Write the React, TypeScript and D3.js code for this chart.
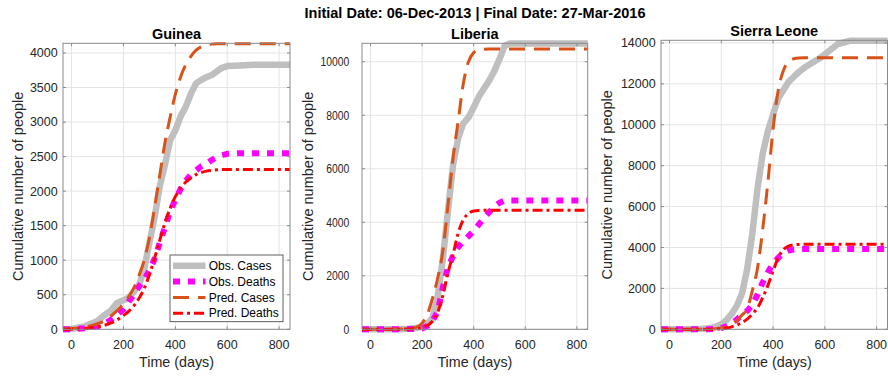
import React from 'react';
import * as d3 from 'd3';

const days = [-33, 0, 50, 100, 125, 150, 175, 200, 220, 240, 260, 280, 300, 320, 340, 360, 380, 400, 420, 440, 460, 480, 500, 520, 540, 560, 580, 600, 650, 700, 750, 800, 842];

const guineaObsCases = [0, 5, 40, 120, 200, 265, 380, 420, 460, 540, 640, 870, 1250, 1620, 2070, 2380, 2740, 2880, 3080, 3220, 3410, 3560, 3610, 3650, 3680, 3735, 3785, 3810, 3820, 3828, 3830, 3830, 3830];
const guineaObsDeaths = [0, 3, 15, 40, 75, 135, 210, 290, 400, 500, 620, 720, 850, 1020, 1250, 1480, 1700, 1880, 2030, 2150, 2240, 2300, 2360, 2400, 2450, 2490, 2520, 2540, 2550, 2550, 2550, 2550, 2550];
const guineaPredCases = [0, 10, 30, 80, 120, 185, 270, 370, 470, 600, 780, 1000, 1320, 1760, 2230, 2700, 3070, 3400, 3650, 3830, 3950, 4040, 4090, 4115, 4128, 4133, 4135, 4135, 4135, 4135, 4135, 4135, 4135];
const guineaPredDeaths = [0, 2, 10, 35, 55, 90, 135, 200, 260, 340, 450, 590, 790, 1030, 1290, 1540, 1750, 1920, 2040, 2130, 2190, 2240, 2270, 2290, 2300, 2308, 2312, 2312, 2312, 2312, 2312, 2312, 2312];

const liberiaObsCases = [0, 0, 2, 5, 10, 20, 50, 90, 200, 420, 1200, 2600, 4400, 6150, 7150, 7700, 7920, 8300, 8700, 9000, 9300, 9650, 10100, 10600, 10680, 10680, 10680, 10680, 10680, 10680, 10680, 10680, 10680];
const liberiaObsDeaths = [0, 0, 0, 2, 4, 8, 15, 30, 120, 320, 650, 1550, 2300, 2750, 3080, 3300, 3480, 3680, 3920, 4150, 4380, 4580, 4730, 4810, 4810, 4810, 4810, 4810, 4810, 4810, 4810, 4810, 4810];
const liberiaPredCases = [0, 0, 2, 8, 15, 30, 65, 230, 550, 1150, 1900, 2900, 4600, 6400, 7800, 9200, 10000, 10340, 10440, 10470, 10478, 10480, 10480, 10480, 10480, 10480, 10480, 10480, 10480, 10480, 10480, 10480, 10480];
const liberiaPredDeaths = [0, 0, 1, 3, 6, 10, 25, 60, 140, 300, 620, 1250, 2100, 2800, 3600, 4100, 4330, 4420, 4445, 4450, 4450, 4450, 4450, 4450, 4450, 4450, 4450, 4450, 4450, 4450, 4450, 4450, 4450];

const sierraObsCases = [0, 0, 5, 15, 25, 50, 100, 250, 450, 750, 1150, 1750, 2950, 4700, 6900, 8600, 9700, 10500, 11300, 11700, 12100, 12350, 12580, 12780, 12950, 13100, 13250, 13450, 13950, 14110, 14110, 14110, 14110];
const sierraObsDeaths = [0, 0, 0, 2, 3, 5, 15, 60, 150, 300, 480, 700, 900, 1200, 1700, 2300, 2800, 3200, 3500, 3720, 3850, 3900, 3925, 3930, 3930, 3930, 3930, 3930, 3930, 3930, 3930, 3930, 3930];
const sierraPredCases = [0, 0, 2, 5, 8, 15, 30, 60, 110, 220, 420, 700, 1000, 1900, 3000, 4900, 7200, 9800, 11700, 12650, 13100, 13230, 13270, 13280, 13280, 13280, 13280, 13280, 13280, 13280, 13280, 13280, 13280];
const sierraPredDeaths = [0, 0, 0, 1, 3, 5, 10, 25, 60, 120, 210, 330, 500, 750, 1050, 1550, 2150, 2850, 3500, 3900, 4070, 4130, 4150, 4155, 4155, 4155, 4155, 4155, 4155, 4155, 4155, 4155, 4155];

const xTicks = [0, 200, 400, 600, 800];
const guineaYTicks = [0, 500, 1000, 1500, 2000, 2500, 3000, 3500, 4000];
const liberiaYTicks = [0, 2000, 4000, 6000, 8000, 10000];
const sierraYTicks = [0, 2000, 4000, 6000, 8000, 10000, 12000, 14000];

const seriesNames = ['Obs. Cases', 'Obs. Deaths', 'Pred. Cases', 'Pred. Deaths'];
const mainTitle = 'Initial Date: 06-Dec-2013 | Final Date: 27-Mar-2016';
const xLabel = 'Time (days)';
const yLabel = 'Cumulative number of people';

const FONT = '"Liberation Sans", Arial, Helvetica, sans-serif';

const lineStyles = [
  { stroke: '#bfbfbf', width: 6.5, dash: undefined as string | undefined, smooth: false },
  { stroke: '#ff00ff', width: 6, dash: '7 8', smooth: false },
  { stroke: '#d95319', width: 3, dash: '16 9', smooth: true },
  { stroke: '#ff0000', width: 3, dash: '10 4 3 4', smooth: true },
];

const panels = [
  { title: 'Guinea', box: { l: 63, r: 290, t: 43.3, b: 329.3 }, yMax: 4140, yTicks: guineaYTicks, series: [guineaObsCases, guineaObsDeaths, guineaPredCases, guineaPredDeaths], ylabX: 22.5, compress: false, legend: true },
  { title: 'Liberia', box: { l: 362, r: 587.7, t: 43.3, b: 329.3 }, yMax: 10690, yTicks: liberiaYTicks, series: [liberiaObsCases, liberiaObsDeaths, liberiaPredCases, liberiaPredDeaths], ylabX: 312.5, compress: true, legend: false },
  { title: 'Sierra Leone', box: { l: 661, r: 887.5, t: 40.3, b: 329.3 }, yMax: 14130, yTicks: sierraYTicks, series: [sierraObsCases, sierraObsDeaths, sierraPredCases, sierraPredDeaths], ylabX: 611.5, compress: false, legend: false },
];

function Panel({ p }: { p: typeof panels[number] }) {
  const { l, r, t, b } = p.box;
  const x = d3.scaleLinear().domain([-33, 842]).range([l, r]);
  const y = d3.scaleLinear().domain([0, p.yMax]).range([b, t]);
  const tick = 3;
  const axisColor = '#8a8a8a';
  const gridColor = '#e4e4e4';
  const textColor = '#262626';
  return (
    <g>
      {xTicks.map((v) => (
        <line key={'gx' + v} x1={x(v)} x2={x(v)} y1={t} y2={b} stroke={gridColor} strokeWidth={1} />
      ))}
      {p.yTicks.map((v) => (
        <line key={'gy' + v} x1={l} x2={r} y1={y(v)} y2={y(v)} stroke={gridColor} strokeWidth={1} />
      ))}
      {p.series.map((vals, i) => {
        const st = lineStyles[i];
        const gen = d3
          .line<number>()
          .x((_, j) => x(days[j]))
          .y((d) => y(d))
          .curve(st.smooth ? d3.curveMonotoneX : d3.curveLinear);
        return (
          <path
            key={'s' + i}
            d={gen(vals) || ''}
            fill="none"
            stroke={st.stroke}
            strokeWidth={st.width}
            strokeDasharray={st.dash}
            strokeLinejoin="round"
            strokeLinecap="butt"
          />
        );
      })}
      <rect x={l} y={t} width={r - l} height={b - t} fill="none" stroke={axisColor} strokeWidth={1} />
      {xTicks.map((v) => (
        <g key={'tx' + v}>
          <line x1={x(v)} x2={x(v)} y1={b} y2={b - tick} stroke={axisColor} />
          <line x1={x(v)} x2={x(v)} y1={t} y2={t + tick} stroke={axisColor} />
          <text x={x(v)} y={349.3} textAnchor="middle" fontSize={12.5} fill={textColor} fontFamily={FONT}>
            {v}
          </text>
        </g>
      ))}
      {p.yTicks.map((v) => {
        const s = String(v);
        return (
          <g key={'ty' + v}>
            <line x1={l} x2={l + tick} y1={y(v)} y2={y(v)} stroke={axisColor} />
            <line x1={r} x2={r - tick} y1={y(v)} y2={y(v)} stroke={axisColor} />
            <text
              x={p.compress ? l - 12.7 : l - 5.3}
              y={y(v)}
              dy="0.35em"
              textAnchor="end"
              fontSize={12.5}
              fill={textColor}
              fontFamily={FONT}
              {...(p.compress ? { textLength: s.length * 5.75, lengthAdjust: 'spacingAndGlyphs' } : {})}
            >
              {s}
            </text>
          </g>
        );
      })}
      <text x={(l + r) / 2} y={t - 4.8} textAnchor="middle" fontSize={14.5} fontWeight="bold" fill="#000" fontFamily={FONT}>
        {p.title}
      </text>
      <text x={(l + r) / 2} y={367.3} textAnchor="middle" fontSize={14.3} fill={textColor} fontFamily={FONT}>
        {xLabel}
      </text>
      <text
        transform={`translate(${p.ylabX},${(t + b) / 2}) rotate(-90)`}
        textAnchor="middle"
        fontSize={14.5}
        fill={textColor}
        fontFamily={FONT}
      >
        {yLabel}
      </text>
      {p.legend && (
        <g>
          <rect x={170} y={255} width={113} height={66.7} fill="#fff" stroke="#3a3a3a" strokeWidth={0.8} />
          {seriesNames.map((name, i) => {
            const st = lineStyles[i];
            const yy = 265.7 + i * 15.85;
            return (
              <g key={name}>
                <line x1={173} x2={205.5} y1={yy} y2={yy} stroke={st.stroke} strokeWidth={st.width} strokeDasharray={st.dash} />
                <text x={208.7} y={yy} dy="0.35em" fontSize={12} fill="#000" fontFamily={FONT}>
                  {name}
                </text>
              </g>
            );
          })}
        </g>
      )}
    </g>
  );
}

export default function App() {
  return (
    <svg width={888} height={377} style={{ position: 'absolute', left: 0, top: 0, background: '#fff' }}>
      <rect x={0} y={0} width={888} height={377} fill="#fff" />
      {panels.map((p) => (
        <Panel key={p.title} p={p} />
      ))}
      <text x={475} y={18.3} textAnchor="middle" fontSize={14.5} fontWeight="bold" fill="#000" fontFamily={FONT}>
        {mainTitle}
      </text>
    </svg>
  );
}
